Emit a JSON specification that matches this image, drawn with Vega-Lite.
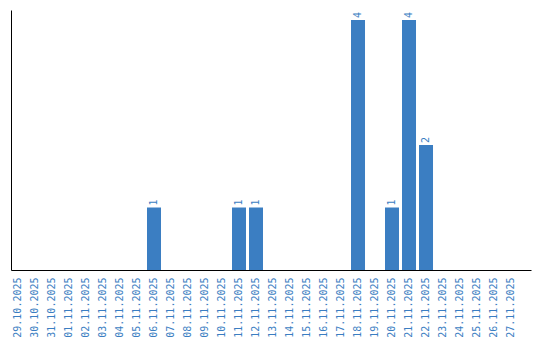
{
  "$schema": "https://vega.github.io/schema/vega-lite/v6.json",
  "autosize": "none",
  "width": 520,
  "height": 260,
  "padding": {"left": 11, "top": 10, "right": 9, "bottom": 70},
  "background": "white",
  "config": {"view": {"stroke": null}},
  "data": {"values": [
    {"date": "29.10.2025", "value": 0},
    {"date": "30.10.2025", "value": 0},
    {"date": "31.10.2025", "value": 0},
    {"date": "01.11.2025", "value": 0},
    {"date": "02.11.2025", "value": 0},
    {"date": "03.11.2025", "value": 0},
    {"date": "04.11.2025", "value": 0},
    {"date": "05.11.2025", "value": 0},
    {"date": "06.11.2025", "value": 1},
    {"date": "07.11.2025", "value": 0},
    {"date": "08.11.2025", "value": 0},
    {"date": "09.11.2025", "value": 0},
    {"date": "10.11.2025", "value": 0},
    {"date": "11.11.2025", "value": 1},
    {"date": "12.11.2025", "value": 1},
    {"date": "13.11.2025", "value": 0},
    {"date": "14.11.2025", "value": 0},
    {"date": "15.11.2025", "value": 0},
    {"date": "16.11.2025", "value": 0},
    {"date": "17.11.2025", "value": 0},
    {"date": "18.11.2025", "value": 4},
    {"date": "19.11.2025", "value": 0},
    {"date": "20.11.2025", "value": 1},
    {"date": "21.11.2025", "value": 4},
    {"date": "22.11.2025", "value": 2},
    {"date": "23.11.2025", "value": 0},
    {"date": "24.11.2025", "value": 0},
    {"date": "25.11.2025", "value": 0},
    {"date": "26.11.2025", "value": 0},
    {"date": "27.11.2025", "value": 0}
  ]},
  "encoding": {
    "x": {
      "field": "date", "type": "nominal", "sort": null,
      "scale": {"paddingInner": 0.176, "paddingOuter": 0.382, "align": 0},
      "axis": {
        "title": null, "ticks": false, "labelAngle": -90, "labelAlign": "right",
        "labelBaseline": "middle", "labelPadding": 7,
        "labelFont": "DejaVu Sans Mono", "labelFontSize": 10, "labelColor": "#3b7ec2",
        "domainColor": "black", "domainWidth": 1, "grid": false
      }
    },
    "y": {
      "field": "value", "type": "quantitative",
      "scale": {"domain": [0, 4.16], "nice": false},
      "axis": {"title": null, "ticks": false, "labels": false, "grid": false, "domainColor": "black", "domainWidth": 1}
    }
  },
  "layer": [
    {"mark": {"type": "bar", "color": "#3b7ec2"}},
    {
      "transform": [{"filter": "datum.value > 0"}],
      "mark": {"type": "text", "angle": 270, "align": "left", "baseline": "middle", "dx": 2, "font": "DejaVu Sans Mono", "fontSize": 10, "color": "#3b7ec2"},
      "encoding": {"text": {"field": "value", "type": "quantitative"}}
    }
  ]
}
